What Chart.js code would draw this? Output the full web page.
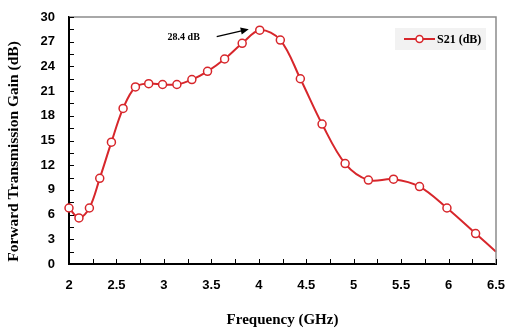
<!DOCTYPE html>
<html>
<head>
<meta charset="utf-8">
<script src="https://cdn.jsdelivr.net/npm/chart.js@4.4.1/dist/chart.umd.min.js"></script>
<style>
  html, body { margin: 0; padding: 0; background: #fff; }
  #wrap { width: 507px; height: 329px; }
</style>
</head>
<body>
<div id="wrap"><canvas id="gainChart" width="507" height="329"></canvas></div>
<script>
// measured S21 curve
const freqs = [2.00, 2.105, 2.215, 2.324, 2.447, 2.57, 2.70, 2.84, 2.986, 3.137, 3.295, 3.46,
               3.64, 3.825, 4.01, 4.227, 4.438, 4.667, 4.91, 5.155, 5.42, 5.694, 5.983, 6.285, 6.5];
const gains = [6.8, 5.6, 6.8, 10.4, 14.8, 18.9, 21.5, 21.9, 21.8, 21.8, 22.4, 23.4,
               24.9, 26.8, 28.4, 27.2, 22.5, 17.0, 12.2, 10.2, 10.3, 9.4, 6.8, 3.7, 1.5];
const seriesName = 'S21 (dB)';
const peakLabel = '28.4 dB';
const peakIndex = 14;
const yTitle = 'Forward Transmission Gain (dB)';

const red = '#d7262b';
const serif = '"Liberation Serif", "Times New Roman", serif';
const sans = '"Liberation Sans", Arial, sans-serif';

function isMultiple(v, step) {
    return Math.abs(v / step - Math.round(v / step)) < 1e-6;
}

// inward ticks, frame, y title, legend box and the peak arrow
const extras = {
    id: 'extras',
    afterDraw(chart) {
        const ctx = chart.ctx;
        const area = chart.chartArea;
        const x = chart.scales.x;
        const y = chart.scales.y;
        ctx.save();

        // gray top/right frame
        ctx.strokeStyle = '#8c8c8c';
        ctx.lineWidth = 1.5;
        ctx.beginPath();
        ctx.moveTo(area.left, area.top);
        ctx.lineTo(area.right, area.top);
        ctx.lineTo(area.right, area.bottom);
        ctx.stroke();

        // tick marks inside the plot
        ctx.strokeStyle = '#000';
        ctx.lineWidth = 1;
        x.ticks.forEach(t => {
            const px = Math.round(x.getPixelForValue(t.value)) + 0.5;
            ctx.beginPath();
            ctx.moveTo(px, area.bottom);
            ctx.lineTo(px, area.bottom - 5);
            ctx.stroke();
        });
        y.ticks.forEach(t => {
            const py = Math.round(y.getPixelForValue(t.value)) + 0.5;
            ctx.beginPath();
            ctx.moveTo(area.left, py);
            ctx.lineTo(area.left + 5, py);
            ctx.stroke();
        });

        // y axis title, sits a bit below the plot centre like the original
        ctx.save();
        ctx.translate(14, area.top + (area.bottom - area.top) / 2 + 11);
        ctx.rotate(-Math.PI / 2);
        ctx.fillStyle = '#000';
        ctx.font = 'bold 15.5px ' + serif;
        ctx.textAlign = 'center';
        ctx.textBaseline = 'middle';
        ctx.fillText(yTitle, 0, 0);
        ctx.restore();

        // legend
        const lx = area.right - 101, ly = area.top + 11;
        ctx.fillStyle = '#f2f2f2';
        ctx.fillRect(lx, ly, 91, 22);
        ctx.strokeStyle = red;
        ctx.lineWidth = 2;
        ctx.beginPath();
        ctx.moveTo(lx + 9, ly + 11);
        ctx.lineTo(lx + 40, ly + 11);
        ctx.stroke();
        ctx.fillStyle = '#fff';
        ctx.lineWidth = 1.5;
        ctx.beginPath();
        ctx.arc(lx + 24.5, ly + 11, 3.5, 0, Math.PI * 2);
        ctx.fill();
        ctx.stroke();
        ctx.fillStyle = '#000';
        ctx.font = 'bold 12px ' + serif;
        ctx.textBaseline = 'middle';
        ctx.textAlign = 'left';
        ctx.fillText(seriesName, lx + 42, ly + 11.5);

        // peak annotation
        const pkx = x.getPixelForValue(freqs[peakIndex]);
        const pky = y.getPixelForValue(gains[peakIndex]);
        const tipX = pkx - 11, tipY = pky - 1;
        const tailX = tipX - 32, tailY = tipY + 7.5;
        ctx.strokeStyle = '#000';
        ctx.lineWidth = 1.3;
        ctx.beginPath();
        ctx.moveTo(tailX, tailY);
        ctx.lineTo(tipX - 4, tipY + 1);
        ctx.stroke();
        const ang = Math.atan2(tipY - tailY, tipX - tailX);
        ctx.fillStyle = '#000';
        ctx.beginPath();
        ctx.moveTo(tipX, tipY);
        ctx.lineTo(tipX - 8 * Math.cos(ang) + 3.5 * Math.sin(ang), tipY - 8 * Math.sin(ang) - 3.5 * Math.cos(ang));
        ctx.lineTo(tipX - 8 * Math.cos(ang) - 3.5 * Math.sin(ang), tipY - 8 * Math.sin(ang) + 3.5 * Math.cos(ang));
        ctx.closePath();
        ctx.fill();
        ctx.font = 'bold 10px ' + serif;
        ctx.textAlign = 'center';
        ctx.fillText(peakLabel, tailX - 33, tailY + 1);

        ctx.restore();
    }
};

const ctx = document.getElementById('gainChart');
new Chart(ctx, {
    type: 'line',
    data: {
        datasets: [{
            label: seriesName,
            data: freqs.map((f, i) => ({ x: f, y: gains[i] })),
            borderColor: red,
            borderWidth: 2,
            backgroundColor: '#fff',
            pointBackgroundColor: '#fff',
            pointBorderColor: red,
            pointBorderWidth: 1.5,
            pointRadius: freqs.map((f, i) => i === freqs.length - 1 ? 0 : 4),
            tension: 0.35,
            clip: false
        }]
    },
    options: {
        responsive: false,
        animation: false,
        layout: { padding: { top: 17, right: 11, left: 0, bottom: 0 } },
        plugins: {
            legend: { display: false },
            tooltip: { enabled: false }
        },
        scales: {
            x: {
                type: 'linear',
                min: 2,
                max: 6.5,
                grid: { display: false, drawTicks: false },
                border: { display: true, color: '#000', width: 2 },
                ticks: {
                    stepSize: 0.25,
                    autoSkip: false,
                    maxRotation: 0,
                    padding: 14,
                    color: '#000',
                    font: { family: sans, size: 13, weight: 'bold' },
                    callback: v => isMultiple(v, 0.5) ? String(v) : ''
                },
                title: {
                    display: true,
                    text: 'Frequency (GHz)',
                    color: '#000',
                    font: { family: serif, size: 15, weight: 'bold' },
                    padding: { top: 0, bottom: 0 }
                },
                afterFit: s => {
                    s.height = 65;
                    s.paddingLeft = 0;
                    s.paddingRight = 0;
                }
            },
            y: {
                min: 0,
                max: 30,
                grid: { display: false, drawTicks: false },
                border: { display: true, color: '#000', width: 2 },
                ticks: {
                    stepSize: 1.5,
                    autoSkip: false,
                    padding: 14,
                    color: '#000',
                    font: { family: sans, size: 13, weight: 'bold' },
                    callback: v => isMultiple(v, 3) ? String(v) : ''
                },
                afterFit: s => {
                    s.width = 69;
                    s.paddingTop = 0;
                    s.paddingBottom = 0;
                }
            }
        }
    },
    plugins: [extras]
});
</script>
</body>
</html>
